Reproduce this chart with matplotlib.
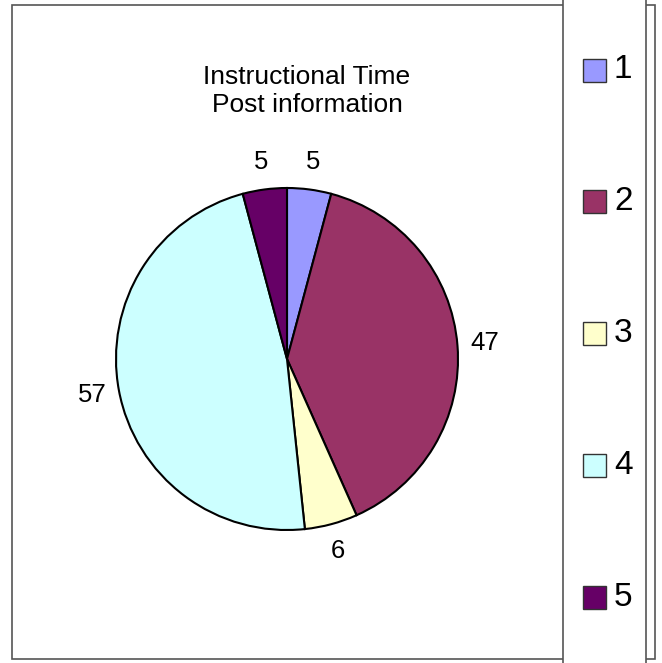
import numpy as np
import matplotlib
matplotlib.use("Agg")
import matplotlib.pyplot as plt
from matplotlib.patches import Rectangle

plt.rcParams['font.family'] = ['Liberation Sans', 'DejaVu Sans']

# data
categories = ['1', '2', '3', '4', '5']
values = [5, 47, 6, 57, 5]
colors = ['#9999FF', '#993366', '#FFFFCC', '#CCFFFF', '#660066']
title = 'Instructional Time\nPost information'

W, H = 662, 663
fig = plt.figure(figsize=(W / 100, H / 100), dpi=100)
ax = fig.add_axes([0, 0, 1, 1])

# chart area border
ax.add_patch(Rectangle((12, H - 659), 643, 654, facecolor='white',
                       edgecolor='#555555', linewidth=1.2, zorder=0))

# pie
cx, cy, R = 287, H - 359, 171
wedges, _ = ax.pie(values, colors=colors, startangle=90, counterclock=False,
                   center=(cx, cy), radius=R, frame=True,
                   wedgeprops=dict(edgecolor='black', linewidth=1.5))
ax.set_xlim(0, W)
ax.set_ylim(0, H)
ax.axis('off')

# value labels outside each slice
for w, v in zip(wedges, values):
    ang = np.deg2rad((w.theta1 + w.theta2) / 2)
    ax.text(cx + 1.16 * R * np.cos(ang), cy + 1.16 * R * np.sin(ang), str(v),
            ha='center', va='center', fontsize=18.5)

ax.text(307, H - 91, title, ha='center', va='center', fontsize=19,
        linespacing=1.2)

# legend panel
ax.add_patch(Rectangle((563, -10), 83, H + 20, facecolor='white',
                       edgecolor='#555555', linewidth=1.2, zorder=3))
for i, (lab, col) in enumerate(zip(categories, colors)):
    y = H - 70 - i * 131.75
    ax.add_patch(Rectangle((583, y - 11.5), 23, 23, facecolor=col,
                           edgecolor='#333333', linewidth=1.0, zorder=4))
    ax.text(614, y, lab, ha='left', va='center', fontsize=24, zorder=4)

fig.savefig('out.png', dpi=100)
